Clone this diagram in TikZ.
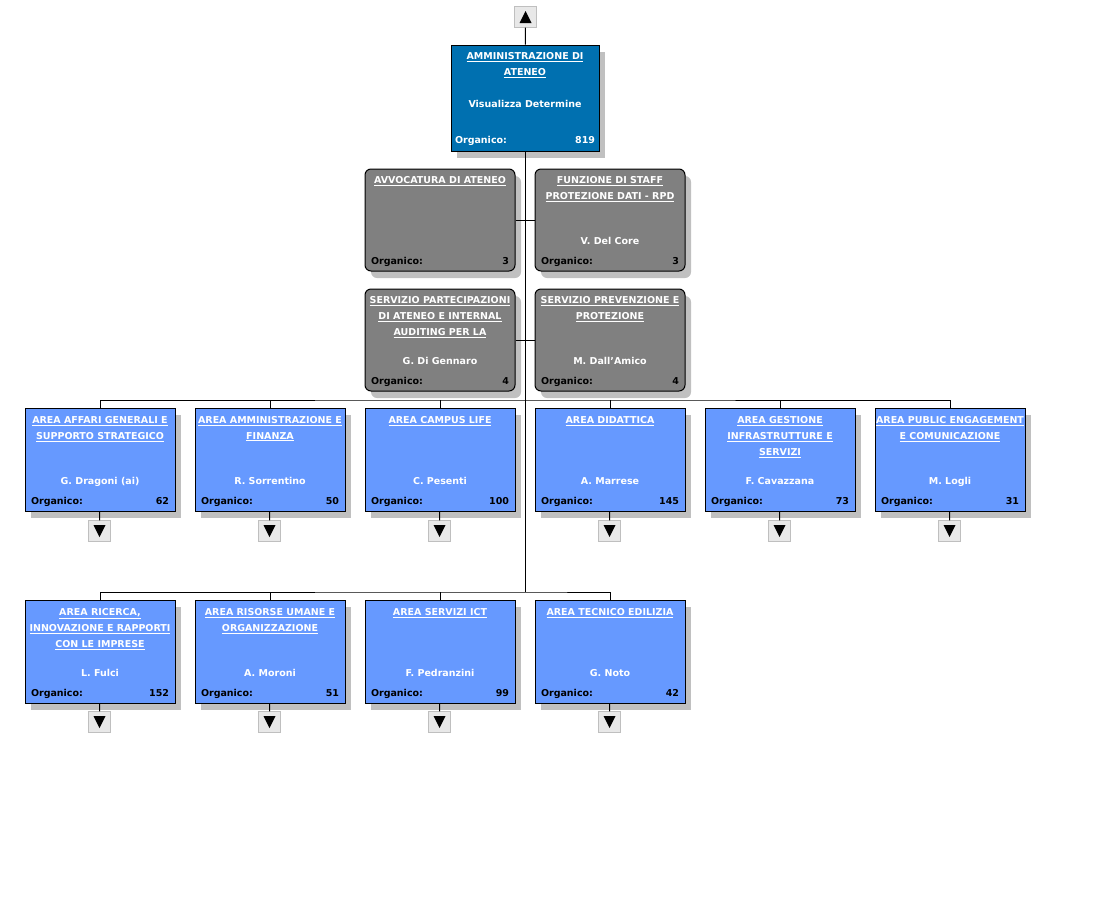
\documentclass[tikz,border=0pt]{standalone}
\usepackage{fontspec}
\setmainfont{DejaVu Sans}
\usetikzlibrary{shadows,positioning}

\definecolor{blunotte}{RGB}{0,112,176}
\definecolor{bluarea}{RGB}{102,153,255}
\definecolor{grigiostaff}{RGB}{128,128,128}
\definecolor{ombra}{RGB}{192,192,192}
\definecolor{tastino}{RGB}{232,232,232}

\newcommand{\sott}[1]{\makebox[\linewidth]{\underline{#1}}}
\newcommand{\scheda}[3]{%
	\begin{minipage}[c][99pt][t]{138pt}\centering\color{white}%
		\vspace*{2pt}%
		\strut#1\par\vfill
		\strut#2\\[4pt]
		\color{black}\strut Organico:\hfill #3%
	\end{minipage}}

\tikzset{
	ufficio/.style={draw=black, line width=1pt, inner sep=0pt,
		minimum width=150pt, minimum height=103pt,
		font=\fontsize{9.5}{16}\selectfont\bfseries,
		drop shadow={shadow xshift=6pt, shadow yshift=-7pt, fill=ombra, opacity=1}},
	vertice/.style={ufficio, fill=blunotte, minimum width=148pt, minimum height=106pt},
	staff/.style={ufficio, fill=grigiostaff, rounded corners=6pt, minimum height=102pt},
	area/.style={ufficio, fill=bluarea},
	tasto/.style={draw=black!25, fill=tastino, inner sep=0pt,
		minimum width=22pt, minimum height=21pt},
	giu/.style={tasto, path picture={\fill[black]
		([shift={(-6pt,6pt)}]path picture bounding box.center)
		-- ++(12pt,0pt) -- ++(-6pt,-12pt) -- cycle;}},
	su/.style={tasto, path picture={\fill[black]
		([shift={(-6pt,-6pt)}]path picture bounding box.center)
		-- ++(12pt,0pt) -- ++(-6pt,12pt) -- cycle;}}
}

\begin{document}
\begin{tikzpicture}[x=1pt,y=-1pt]
	\useasboundingbox (0,0) rectangle (1100,908);

	% vertice
	\node[su] (amm-t) at (525.5,17) {};
	\node[vertice] (amm) at (525,98) {%
		\begin{minipage}[c][100pt][t]{140pt}\centering\color{white}%
			\strut\sott{AMMINISTRAZIONE DI}\\\sott{ATENEO}\\[16pt]
			Visualizza Determine\par\vfill
			\strut Organico:\hfill 819%
		\end{minipage}};

	% staff
	\node[staff] (avv) at (440,220) {\scheda{\sott{AVVOCATURA DI ATENEO}}{}{3}};
	\node[staff] (rpd) at (610,220) {\scheda{\sott{FUNZIONE DI STAFF}\\\sott{PROTEZIONE DATI - RPD}}{V. Del Core}{3}};
	\node[staff] (spa) at (440,340) {\scheda{\sott{SERVIZIO PARTECIPAZIONI}\\\sott{DI ATENEO E INTERNAL}\\\sott{AUDITING PER LA}}{G. Di Gennaro}{4}};
	\node[staff] (spp) at (610,340) {\scheda{\sott{SERVIZIO PREVENZIONE E}\\\sott{PROTEZIONE}}{M. Dall'Amico}{4}};

	% aree, prima fila
	\node[area] (aag) at (100,459.5) {\scheda{\sott{AREA AFFARI GENERALI E}\\\sott{SUPPORTO STRATEGICO}}{G. Dragoni (ai)}{62}};
	\node[area] (aaf) at (270,459.5) {\scheda{\sott{AREA AMMINISTRAZIONE E}\\\sott{FINANZA}}{R. Sorrentino}{50}};
	\node[area] (acl) at (440,459.5) {\scheda{\sott{AREA CAMPUS LIFE}}{C. Pesenti}{100}};
	\node[area] (adi) at (610,459.5) {\scheda{\sott{AREA DIDATTICA}}{A. Marrese}{145}};
	\node[area] (agi) at (780,459.5) {\scheda{\sott{AREA GESTIONE}\\\sott{INFRASTRUTTURE E}\\\sott{SERVIZI}}{F. Cavazzana}{73}};
	\node[area] (ape) at (950,459.5) {\scheda{\sott{AREA PUBLIC ENGAGEMENT}\\\sott{E COMUNICAZIONE}}{M. Logli}{31}};

	% aree, seconda fila
	\node[area] (arc) at (100,651.5) {\scheda{\sott{AREA RICERCA,}\\\sott{INNOVAZIONE E RAPPORTI}\\\sott{CON LE IMPRESE}}{L. Fulci}{152}};
	\node[area] (aru) at (270,651.5) {\scheda{\sott{AREA RISORSE UMANE E}\\\sott{ORGANIZZAZIONE}}{A. Moroni}{51}};
	\node[area] (asi) at (440,651.5) {\scheda{\sott{AREA SERVIZI ICT}}{F. Pedranzini}{99}};
	\node[area] (ate) at (610,651.5) {\scheda{\sott{AREA TECNICO EDILIZIA}}{G. Noto}{42}};

	% tasti
	\node[giu] (aag-t) at (99.5,531) {};
	\node[giu] (aaf-t) at (269.5,531) {};
	\node[giu] (acl-t) at (439.5,531) {};
	\node[giu] (adi-t) at (609.5,531) {};
	\node[giu] (agi-t) at (779.5,531) {};
	\node[giu] (ape-t) at (949.5,531) {};
	\node[giu] (arc-t) at (99.5,722) {};
	\node[giu] (aru-t) at (269.5,722) {};
	\node[giu] (asi-t) at (439.5,722) {};
	\node[giu] (ate-t) at (609.5,722) {};

	\coordinate (bus1) at (525,400);
	\coordinate (bus2) at (525,592);

	% collegamenti
	\begin{scope}[line width=1pt]
		\draw (amm-t) -- (amm);
		\draw (amm) -- (bus2);
		\draw (avv) -- (rpd);
		\draw (spa) -- (spp);
		\draw (aag.north) |- (bus1) -| (ape.north);
		\draw (aaf) -- (aaf |- bus1);
		\draw (acl) -- (acl |- bus1);
		\draw (adi) -- (adi |- bus1);
		\draw (agi) -- (agi |- bus1);
		\draw (arc.north) |- (bus2) -| (ate.north);
		\draw (aru) -- (aru |- bus2);
		\draw (asi) -- (asi |- bus2);
		\draw (aag) -- (aag-t);
		\draw (aaf) -- (aaf-t);
		\draw (acl) -- (acl-t);
		\draw (adi) -- (adi-t);
		\draw (agi) -- (agi-t);
		\draw (ape) -- (ape-t);
		\draw (arc) -- (arc-t);
		\draw (aru) -- (aru-t);
		\draw (asi) -- (asi-t);
		\draw (ate) -- (ate-t);
	\end{scope}
\end{tikzpicture}
\end{document}
